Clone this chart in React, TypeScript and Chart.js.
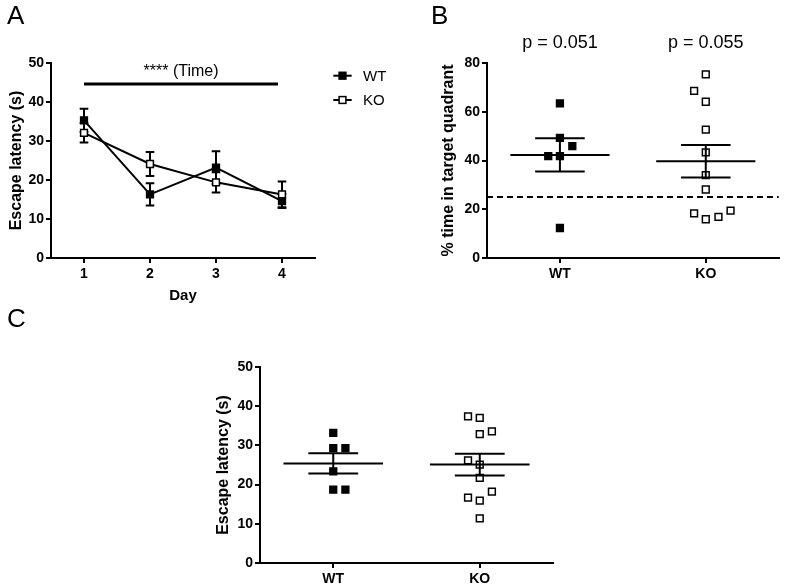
import React, { useEffect, useRef } from 'react';
import { Chart, registerables } from 'chart.js';

Chart.register(...registerables);

const FONT = '"Liberation Sans", Arial, Helvetica, sans-serif';

// ---------- Panel A: escape latency across training days ----------
const days = [1, 2, 3, 4];
const wtLatency = [35.3, 16.3, 23.2, 14.6];
const wtLatencySem = [3.0, 2.85, 4.2, 1.8];
const koLatency = [32.1, 24.1, 19.4, 16.3];
const koLatencySem = [2.5, 3.1, 2.6, 3.3];
const latencyMax = 50;
const latencyStep = 10;
const timeEffectLabel = '**** (Time)';
const timeBarFrom = 1;
const timeBarTo = 3.94;
const timeBarY = 44.6;
const seriesNames = ['WT', 'KO'];

// ---------- Panel B: % time in target quadrant (probe) ----------
const groups = ['WT', 'KO'];
const probeWt = [63.4, 49.3, 45.9, 41.8, 41.8, 12.3];
const probeWtJitter = [0, 0, 0.085, -0.08, 0, 0];
const probeKo = [75.3, 68.6, 64.1, 52.7, 43.3, 34.0, 28.1, 18.3, 15.9, 16.9, 19.4];
const probeKoJitter = [0, -0.08, 0, 0, 0, 0, 0, -0.08, 0, 0.087, 0.17];
const probeMean = [42.3, 39.7];
const probeSem = [6.8, 6.7];
const probeChance = 25;
const probePValues = ['p = 0.051', 'p = 0.055'];
const probeMax = 80;
const probeStep = 20;

// ---------- Panel C: escape latency (visible platform) ----------
const visWt = [33.2, 29.3, 29.3, 23.4, 18.7, 18.7];
const visWtJitter = [0, 0, 0.083, 0, 0, 0.083];
const visKo = [37.4, 37.0, 32.9, 33.6, 26.2, 25.1, 21.7, 16.7, 15.9, 18.2, 11.4];
const visKoJitter = [-0.08, 0, 0, 0.083, -0.08, 0, 0, -0.08, 0, 0.083, 0];
const visMean = [25.4, 25.1];
const visSem = [2.6, 2.8];
const visMax = 50;
const visStep = 10;

const tickFont = { family: FONT, size: 14, weight: 'bold' as const };
const titleFont = { family: FONT, size: 16, weight: 'bold' as const };
const POINT_R = 4.8;

function yAxis(max: number, step: number, title: string, width: number, titlePad: number) {
  return {
    type: 'linear' as const,
    min: 0,
    max,
    ticks: { stepSize: step, font: tickFont, color: '#000', padding: 2 },
    grid: { drawOnChartArea: false, drawTicks: true, tickLength: 5, color: '#000', lineWidth: 2 },
    border: { display: true, color: '#000', width: 2 },
    title: { display: true, text: title, font: titleFont, color: '#000', padding: { top: titlePad, bottom: 0 } },
    afterFit: (s: any) => { s.width = width; },
  };
}

function xAxis(min: number, max: number, values: number[], labels: (v: number) => string, height: number, title?: string, titlePadBottom = 0) {
  return {
    type: 'linear' as const,
    min,
    max,
    afterBuildTicks: (s: any) => { s.ticks = values.map((v) => ({ value: v })); },
    ticks: { font: tickFont, color: '#000', padding: 3, maxRotation: 0, autoSkip: false, callback: (v: any) => labels(Number(v)) },
    grid: { drawOnChartArea: false, drawTicks: true, tickLength: 5, color: '#000', lineWidth: 2 },
    border: { display: true, color: '#000', width: 2 },
    title: title
      ? { display: true, text: title, font: { family: FONT, size: 15, weight: 'bold' as const }, color: '#000', padding: { top: 0, bottom: titlePadBottom } }
      : { display: false },
    afterFit: (s: any) => { s.height = height; },
  };
}

function drawSquare(ctx: CanvasRenderingContext2D, x: number, y: number, filled: boolean) {
  const h = 3.4;
  ctx.save();
  ctx.lineWidth = 1.5;
  ctx.strokeStyle = '#000';
  ctx.fillStyle = filled ? '#000' : '#fff';
  ctx.fillRect(x - h, y - h, 2 * h, 2 * h);
  ctx.strokeRect(x - h, y - h, 2 * h, 2 * h);
  ctx.restore();
}

function meanSemPlugin(mean: number[], sem: number[], extra?: (chart: any) => void) {
  return {
    id: 'meanSem',
    afterDatasetsDraw(chart: any) {
      const { ctx, scales } = chart;
      const xs = scales.x;
      const ys = scales.y;
      ctx.save();
      ctx.strokeStyle = '#000';
      ctx.lineWidth = 2;
      mean.forEach((m, i) => {
        const yM = ys.getPixelForValue(m);
        const yHi = ys.getPixelForValue(m + sem[i]);
        const yLo = ys.getPixelForValue(m - sem[i]);
        const xc = xs.getPixelForValue(i);
        ctx.beginPath();
        ctx.moveTo(xs.getPixelForValue(i - 0.34), yM);
        ctx.lineTo(xs.getPixelForValue(i + 0.34), yM);
        ctx.moveTo(xs.getPixelForValue(i - 0.17), yHi);
        ctx.lineTo(xs.getPixelForValue(i + 0.17), yHi);
        ctx.moveTo(xs.getPixelForValue(i - 0.17), yLo);
        ctx.lineTo(xs.getPixelForValue(i + 0.17), yLo);
        ctx.moveTo(xc, yHi);
        ctx.lineTo(xc, yLo);
        ctx.stroke();
      });
      ctx.restore();
      if (extra) extra(chart);
    },
  };
}

function useChart(ref: React.RefObject<HTMLCanvasElement>, make: () => any) {
  useEffect(() => {
    if (!ref.current) return;
    const chart = new Chart(ref.current, make());
    return () => chart.destroy();
  }, []);
}

function PanelA() {
  const ref = useRef<HTMLCanvasElement>(null);
  useChart(ref, () => ({
    type: 'line',
    data: {
      datasets: [
        {
          label: seriesNames[0],
          data: days.map((d, i) => ({ x: d, y: wtLatency[i] })),
          borderColor: '#000', borderWidth: 2, tension: 0,
          pointStyle: 'rect', pointRadius: POINT_R, pointBorderWidth: 1.5,
          pointBackgroundColor: '#000', pointBorderColor: '#000',
        },
        {
          label: seriesNames[1],
          data: days.map((d, i) => ({ x: d, y: koLatency[i] })),
          borderColor: '#000', borderWidth: 2, tension: 0,
          pointStyle: 'rect', pointRadius: POINT_R, pointBorderWidth: 1.5,
          pointBackgroundColor: '#fff', pointBorderColor: '#000',
        },
      ],
    },
    options: {
      responsive: false, animation: false, devicePixelRatio: 1, events: [],
      layout: { padding: { left: 0, right: 85, top: 63, bottom: 0 } },
      plugins: { legend: { display: false }, tooltip: { enabled: false } },
      scales: {
        x: xAxis(0.5, 4.5, days, (v) => String(v), 62, 'Day', 15.6),
        y: yAxis(latencyMax, latencyStep, 'Escape latency (s)', 51, 7.4),
      },
    },
    plugins: [{
      id: 'errA',
      beforeDatasetsDraw(chart: any) {
        const { ctx, scales } = chart;
        ctx.save();
        ctx.strokeStyle = '#000';
        ctx.lineWidth = 2;
        [[wtLatency, wtLatencySem], [koLatency, koLatencySem]].forEach(([m, s]) => {
          days.forEach((d, i) => {
            const x = scales.x.getPixelForValue(d);
            const hi = scales.y.getPixelForValue(m[i] + s[i]);
            const lo = scales.y.getPixelForValue(m[i] - s[i]);
            ctx.beginPath();
            ctx.moveTo(x, hi); ctx.lineTo(x, lo);
            ctx.moveTo(x - 4.3, hi); ctx.lineTo(x + 4.3, hi);
            ctx.moveTo(x - 4.3, lo); ctx.lineTo(x + 4.3, lo);
            ctx.stroke();
          });
        });
        ctx.restore();
      },
      afterDraw(chart: any) {
        const { ctx, scales } = chart;
        const x1 = scales.x.getPixelForValue(timeBarFrom);
        const x2 = scales.x.getPixelForValue(timeBarTo);
        const yb = scales.y.getPixelForValue(timeBarY);
        ctx.save();
        ctx.strokeStyle = '#000';
        ctx.lineWidth = 3;
        ctx.beginPath();
        ctx.moveTo(x1, yb); ctx.lineTo(x2, yb);
        ctx.stroke();
        ctx.fillStyle = '#000';
        ctx.font = `16px ${FONT}`;
        ctx.textAlign = 'center';
        ctx.textBaseline = 'middle';
        ctx.fillText(timeEffectLabel, (x1 + x2) / 2, yb - 12.5);
        // legend
        const lx0 = 333.3, lx1 = 351.7, tx = 363;
        const ly = [75.7, 100];
        ctx.font = `15px ${FONT}`;
        ctx.textAlign = 'left';
        seriesNames.forEach((name, i) => {
          ctx.lineWidth = 2;
          ctx.beginPath();
          ctx.moveTo(lx0, ly[i]); ctx.lineTo(lx1, ly[i]);
          ctx.stroke();
          drawSquare(ctx, (lx0 + lx1) / 2, ly[i], i === 0);
          ctx.fillStyle = '#000';
          ctx.fillText(name, tx, ly[i] + 1);
        });
        ctx.restore();
      },
    }],
  }));
  return <canvas ref={ref} width={400} height={320} style={{ position: 'absolute', left: 0, top: 0, width: 400, height: 320 }} />;
}

function scatterSets(wt: number[], wtJ: number[], ko: number[], koJ: number[]) {
  const common = { showLine: false, pointStyle: 'rect', pointRadius: POINT_R, pointBorderWidth: 1.5, pointBorderColor: '#000' };
  return [
    { ...common, label: groups[0], data: wt.map((y, i) => ({ x: 0 + wtJ[i], y })), pointBackgroundColor: '#000' },
    { ...common, label: groups[1], data: ko.map((y, i) => ({ x: 1 + koJ[i], y })), pointBackgroundColor: '#fff' },
  ];
}

function PanelB() {
  const ref = useRef<HTMLCanvasElement>(null);
  useChart(ref, () => ({
    type: 'scatter',
    data: { datasets: scatterSets(probeWt, probeWtJitter, probeKo, probeKoJitter) },
    options: {
      responsive: false, animation: false, devicePixelRatio: 1, events: [],
      layout: { padding: { left: 0, right: 3, top: 63, bottom: 0 } },
      plugins: { legend: { display: false }, tooltip: { enabled: false } },
      scales: {
        x: xAxis(-0.5, 1.5, [0, 1], (v) => groups[v] ?? '', 42),
        y: yAxis(probeMax, probeStep, '% time in target quadrant', 87, 38.7),
      },
    },
    plugins: [meanSemPlugin(probeMean, probeSem, (chart: any) => {
      const { ctx, scales, chartArea } = chart;
      const yc = scales.y.getPixelForValue(probeChance);
      ctx.save();
      ctx.strokeStyle = '#000';
      ctx.lineWidth = 2;
      ctx.setLineDash([6, 4]);
      ctx.beginPath();
      ctx.moveTo(chartArea.left, yc);
      ctx.lineTo(chartArea.right, yc);
      ctx.stroke();
      ctx.setLineDash([]);
      ctx.fillStyle = '#000';
      ctx.font = `18px ${FONT}`;
      ctx.textAlign = 'center';
      ctx.textBaseline = 'middle';
      probePValues.forEach((p, i) => {
        ctx.fillText(p, scales.x.getPixelForValue(i), chartArea.top - 20);
      });
      ctx.restore();
    })],
  }));
  return <canvas ref={ref} width={385} height={300} style={{ position: 'absolute', left: 400, top: 0, width: 385, height: 300 }} />;
}

function PanelC() {
  const ref = useRef<HTMLCanvasElement>(null);
  useChart(ref, () => ({
    type: 'scatter',
    data: { datasets: scatterSets(visWt, visWtJitter, visKo, visKoJitter) },
    options: {
      responsive: false, animation: false, devicePixelRatio: 1, events: [],
      layout: { padding: { left: 0, right: 17, top: 67, bottom: 0 } },
      plugins: { legend: { display: false }, tooltip: { enabled: false } },
      scales: {
        x: xAxis(-0.5, 1.5, [0, 1], (v) => groups[v] ?? '', 22),
        y: yAxis(visMax, visStep, 'Escape latency (s)', 90, 43.7),
      },
    },
    plugins: [meanSemPlugin(visMean, visSem)],
  }));
  return <canvas ref={ref} width={400} height={285} style={{ position: 'absolute', left: 170, top: 300, width: 400, height: 285 }} />;
}

const letterStyle: React.CSSProperties = {
  position: 'absolute', fontFamily: FONT, fontSize: 26, lineHeight: '26px', color: '#000', margin: 0,
};

export default function App() {
  return (
    <div style={{ position: 'absolute', left: 0, top: 0, width: 785, height: 585, background: '#fff', overflow: 'hidden' }}>
      <PanelA />
      <PanelB />
      <PanelC />
      <div style={{ ...letterStyle, left: 7, top: 2 }}>A</div>
      <div style={{ ...letterStyle, left: 431, top: 2 }}>B</div>
      <div style={{ ...letterStyle, left: 7, top: 305 }}>C</div>
    </div>
  );
}
